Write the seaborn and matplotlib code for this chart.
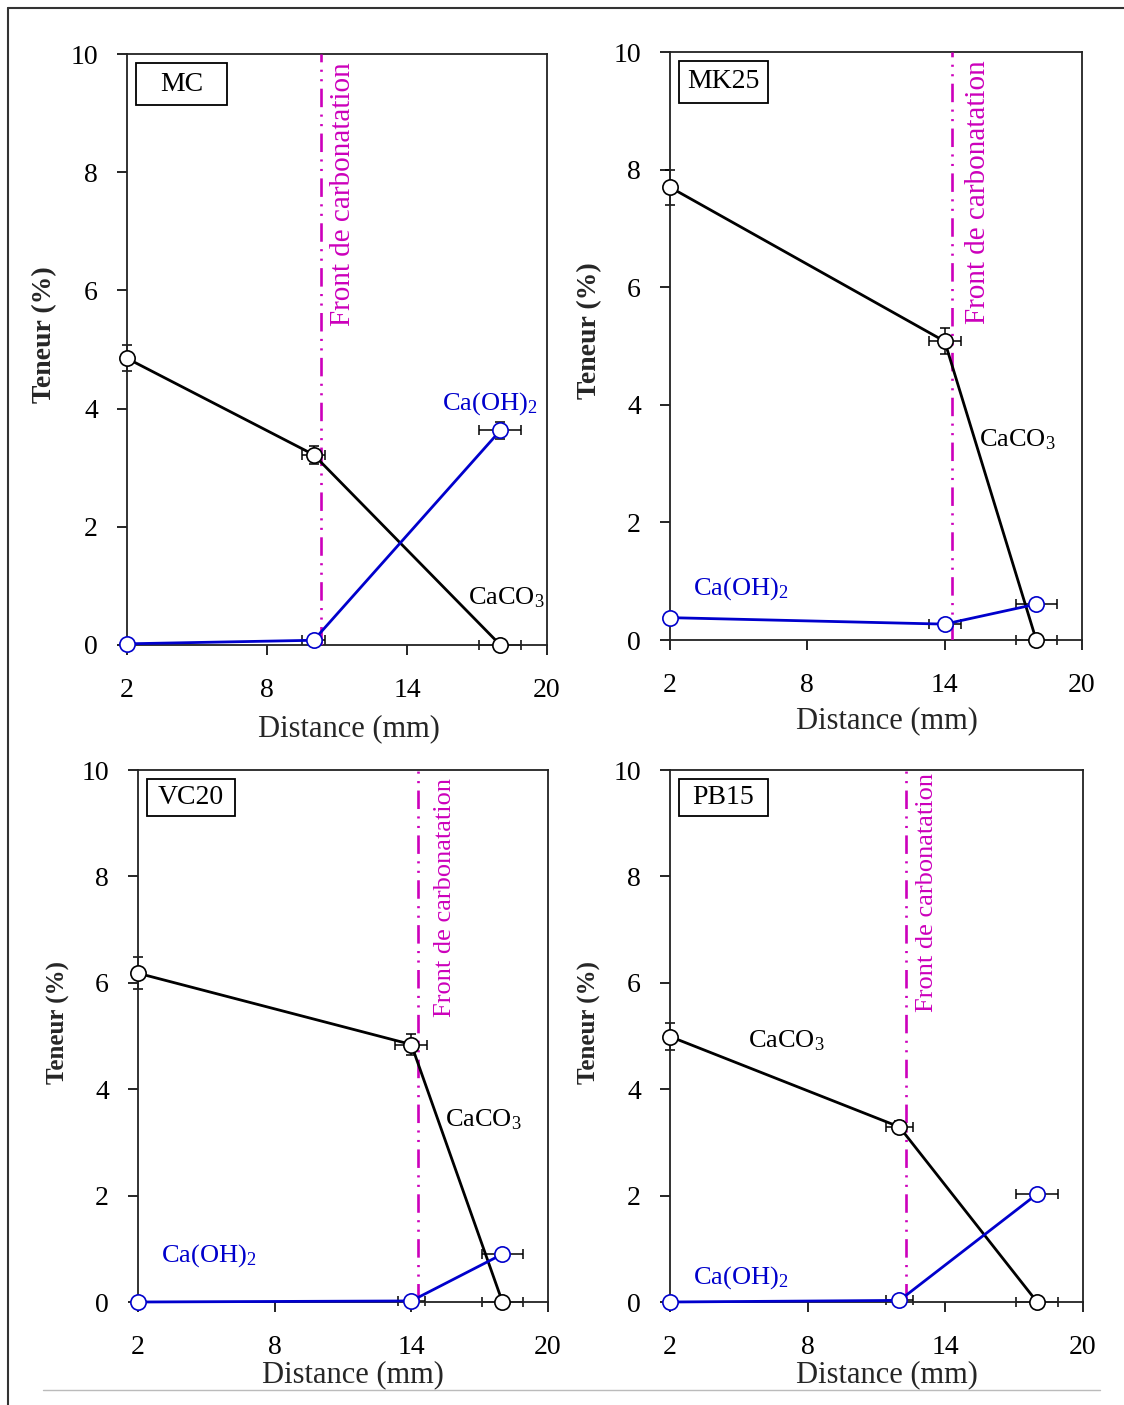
import numpy as np
import pandas as pd
import matplotlib
matplotlib.use("Agg")
import matplotlib.pyplot as plt
from matplotlib.lines import Line2D
from matplotlib.patches import Rectangle
import seaborn as sns

sns.set_theme(style="ticks")
plt.rcParams["font.family"] = ["Liberation Serif", "DejaVu Serif"]
plt.rcParams["mathtext.fontset"] = "custom"
plt.rcParams["mathtext.rm"] = "Liberation Serif"
plt.rcParams["mathtext.it"] = "Liberation Serif:italic"

# data
samples = ["MC", "MK25", "VC20", "PB15"]
distance = {
    "MC": [2, 10, 18],
    "MK25": [2, 14, 18],
    "VC20": [2, 14, 18],
    "PB15": [2, 12, 18],
}
caco3 = {
    "MC": [4.85, 3.22, 0.0],
    "MK25": [7.70, 5.08, 0.0],
    "VC20": [6.18, 4.84, 0.0],
    "PB15": [4.99, 3.29, 0.0],
}
caoh2 = {
    "MC": [0.02, 0.08, 3.63],
    "MK25": [0.38, 0.27, 0.61],
    "VC20": [0.00, 0.02, 0.90],
    "PB15": [0.00, 0.03, 2.03],
}
caco3_xerr = {
    "MC": [0, 0.5, 0.9],
    "MK25": [0, 0.7, 0.9],
    "VC20": [0, 0.7, 0.9],
    "PB15": [0, 0.6, 0.9],
}
caco3_yerr = {
    "MC": [0.22, 0.15, 0.0],
    "MK25": [0.30, 0.22, 0.0],
    "VC20": [0.30, 0.20, 0.0],
    "PB15": [0.25, 0.12, 0.0],
}
caoh2_xerr = {
    "MC": [0, 0.5, 0.9],
    "MK25": [0, 0.7, 0.9],
    "VC20": [0, 0.6, 0.9],
    "PB15": [0, 0.6, 0.9],
}
caoh2_yerr = {
    "MC": [0, 0, 0.15],
    "MK25": [0, 0, 0.0],
    "VC20": [0, 0, 0.0],
    "PB15": [0, 0, 0.0],
}
front = {"MC": 10.3, "MK25": 14.3, "VC20": 14.3, "PB15": 12.3}

x_ticks = [2, 8, 14, 20]
y_ticks = [0, 2, 4, 6, 8, 10]

# layout (pixels -> figure fractions)
W, H = 1124, 1405
axes_px = {
    "MC": (127, 547, 54, 645),
    "MK25": (670, 1082, 52, 640),
    "VC20": (138, 548, 770, 1302),
    "PB15": (670, 1083, 770, 1302),
}
# text placement per panel (data coords)
caco3_lbl = {"MC": (16.6, 0.8), "MK25": (15.5, 3.4), "VC20": (15.5, 3.42), "PB15": (5.4, 4.92)}
caoh2_lbl = {"MC": (15.5, 4.08), "MK25": (3.0, 0.88), "VC20": (3.0, 0.88), "PB15": (3.0, 0.45)}
front_lbl = {"MC": (11.26, 9.86, 21), "MK25": (15.45, 9.86, 21),
             "VC20": (15.46, 9.85, 19), "PB15": (13.18, 9.94, 19)}
ylab_size = {"MC": 20, "MK25": 20, "VC20": 18, "PB15": 18}

BLUE = "#0000CC"
MAGENTA = "#CC00BB"

fig = plt.figure(figsize=(W / 100, H / 100), dpi=100)

for s in samples:
    l, r, t, b = axes_px[s]
    ax = fig.add_axes([l / W, 1 - b / H, (r - l) / W, (b - t) / H])
    df = pd.DataFrame({"x": distance[s], "caco3": caco3[s], "caoh2": caoh2[s]})

    ax.axvline(front[s], color=MAGENTA, lw=1.9, zorder=3,
               linestyle=(0, (7.0, 2.8, 0.8, 2.8, 0.8, 2.8)))

    ax.errorbar(df["x"], df["caco3"], xerr=caco3_xerr[s], yerr=caco3_yerr[s],
                fmt="none", ecolor="black", elinewidth=1.1, capsize=3.5,
                capthick=1.1, zorder=2, clip_on=False)
    ax.errorbar(df["x"], df["caoh2"], xerr=caoh2_xerr[s], yerr=caoh2_yerr[s],
                fmt="none", ecolor="black", elinewidth=1.1, capsize=3.5,
                capthick=1.1, zorder=2, clip_on=False)

    sns.lineplot(data=df, x="x", y="caco3", ax=ax, color="black", lw=2.0,
                 marker="o", markersize=11, markerfacecolor="white",
                 markeredgecolor="black", markeredgewidth=1.2, zorder=4,
                 clip_on=False)
    sns.lineplot(data=df, x="x", y="caoh2", ax=ax, color=BLUE, lw=2.0,
                 marker="o", markersize=11, markerfacecolor="white",
                 markeredgecolor=BLUE, markeredgewidth=1.2, zorder=4,
                 clip_on=False)

    ax.set_xlim(2, 20)
    ax.set_ylim(0, 10)
    ax.set_xticks(x_ticks)
    ax.set_yticks(y_ticks)
    ax.tick_params(axis="both", direction="out", length=7, width=1.2,
                   colors="black", labelsize=20)
    ax.tick_params(axis="y", pad=14)
    ax.tick_params(axis="x", pad=17)
    for sp in ax.spines.values():
        sp.set_visible(True)
        sp.set_color("#222222")
        sp.set_linewidth(1.3)

    ax.set_xlabel("Distance (mm)", fontsize=22)
    ax.set_ylabel("Teneur (%)", fontsize=ylab_size[s], fontweight="bold")
    xl = {"MC": (0.529, -0.117), "MK25": (0.527, -0.112),
          "VC20": (0.524, -0.109), "PB15": (0.525, -0.109)}[s]
    ax.xaxis.set_label_coords(*xl)
    ax.xaxis.label.set_va("top")
    ax.yaxis.set_label_coords(-0.195, 0.526)
    ax.yaxis.label.set_va("center")

    # sample name box
    ax.add_patch(Rectangle((0.022, 0.913), 0.215, 0.071, transform=ax.transAxes,
                           fill=False, edgecolor="black", lw=1.3, zorder=5))
    ax.text(0.1295, 0.949, s, transform=ax.transAxes, ha="center", va="center",
            fontsize=20, color="black")

    ax.text(*caco3_lbl[s], r"CaCO$_3$", fontsize=19, color="black",
            ha="left", va="center")
    ax.text(*caoh2_lbl[s], r"Ca(OH)$_2$", fontsize=19, color=BLUE,
            ha="left", va="center")
    fx, fy, fs = front_lbl[s]
    ax.text(fx, fy, "Front de carbonatation", rotation=90, fontsize=fs,
            color=MAGENTA, ha="center", va="top")

# outer frame of the original picture
fig.add_artist(Line2D([8 / W, 8 / W], [0, 1 - 8 / H], color="#333333", lw=1.5))
fig.add_artist(Line2D([8 / W, 1], [1 - 8 / H, 1 - 8 / H], color="#333333", lw=1.5))
fig.add_artist(Line2D([43 / W, 1100 / W], [1 - 1390 / H, 1 - 1390 / H],
                      color="#bbbbbb", lw=1.0))

fig.savefig("out.png", dpi=100)
